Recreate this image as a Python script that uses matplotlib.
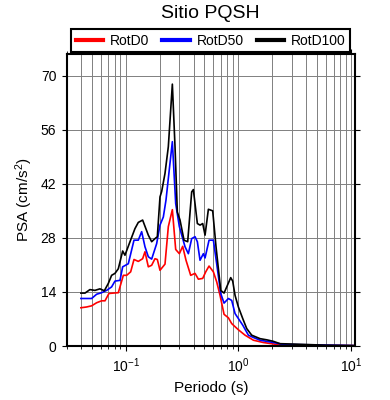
import numpy as np
import matplotlib
matplotlib.use('Agg')
import matplotlib.pyplot as plt
from matplotlib.ticker import LogLocator, NullFormatter

# periods (s) and PSA (cm/s2)
per_d100 = [0.0401, 0.0436, 0.0482, 0.0534, 0.0592, 0.0647, 0.0702, 0.0751, 0.0804,
            0.0861, 0.0941, 0.0986, 0.1093, 0.1210, 0.1295, 0.1415, 0.1589, 0.1701,
            0.1821, 0.1910, 0.2017, 0.2087, 0.2234, 0.2391, 0.2596, 0.2741, 0.2874,
            0.3036, 0.3294, 0.3551, 0.3853, 0.3987, 0.4326, 0.4569, 0.4826, 0.5062,
            0.5418, 0.5918, 0.6334, 0.6971, 0.7462, 0.7881, 0.8550, 0.8906, 0.9342,
            1.0, 1.093, 1.186, 1.313, 1.557, 1.784, 2.045, 2.343, 3.077, 4.326, 6.082, 10.8]
psa_d100 = [13.7, 13.7, 14.6, 14.4, 14.8, 14.3, 16.2, 18.3, 18.8,
            20.0, 24.6, 23.5, 27.0, 30.4, 32.0, 32.6, 28.7, 27.0,
            27.8, 28.3, 38.6, 40.0, 44.7, 51.6, 67.8, 51.6, 34.7,
            32.6, 27.4, 27.0, 39.9, 40.5, 31.7, 31.3, 31.7, 28.7,
            35.4, 35.0, 25.7, 14.4, 13.7, 15.3, 17.7, 16.8, 13.1,
            10.1, 7.1, 4.5, 2.8, 1.9, 1.6, 1.2, 0.6, 0.5, 0.35, 0.2, 0.1]

per_d50 = [0.0401, 0.0450, 0.0499, 0.0553, 0.0612, 0.0678, 0.0751, 0.0804, 0.0891,
           0.0941, 0.1056, 0.1186, 0.1295, 0.1387, 0.1484, 0.1589, 0.1701, 0.1884,
           0.2017, 0.2159, 0.2280, 0.2408, 0.2596, 0.2779, 0.2995, 0.3362, 0.3600,
           0.3853, 0.4125, 0.4326, 0.4569, 0.4892, 0.5062, 0.5492, 0.6000, 0.6511,
           0.6971, 0.7462, 0.8152, 0.8727, 0.9342, 1.0, 1.093, 1.227, 1.359, 1.557,
           2.045, 2.508, 4.326, 10.8]
psa_d50 = [12.3, 12.3, 12.3, 13.4, 13.8, 14.4, 15.3, 16.8, 17.0,
           20.5, 21.3, 27.4, 27.4, 29.6, 25.7, 23.1, 22.5, 26.5,
           31.3, 33.4, 37.8, 44.2, 52.9, 36.9, 30.9, 25.7, 23.9,
           27.8, 28.3, 27.0, 22.2, 23.9, 22.8, 27.4, 27.4, 20.0,
           13.6, 11.1, 12.3, 11.8, 8.4, 7.1, 5.4, 2.8, 2.2, 1.5,
           0.9, 0.4, 0.3, 0.1]

per_d0 = [0.0401, 0.0450, 0.0499, 0.0553, 0.0612, 0.0656, 0.0711, 0.0777, 0.0861,
          0.0954, 0.1021, 0.1108, 0.1186, 0.1295, 0.1415, 0.1484, 0.1589, 0.1701,
          0.1821, 0.1910, 0.2017, 0.2234, 0.2391, 0.2596, 0.2779, 0.2995, 0.3206,
          0.3431, 0.3775, 0.4125, 0.4416, 0.4826, 0.5132, 0.5492, 0.6000, 0.6422,
          0.6877, 0.7462, 0.8152, 0.8727, 1.0, 1.146, 1.359, 1.667, 2.189, 3.077, 10.8]
psa_d0 = [9.9, 10.1, 10.4, 11.2, 11.7, 11.7, 13.6, 13.7, 13.8,
          18.3, 18.3, 19.2, 22.4, 21.9, 22.6, 24.4, 20.5, 20.9,
          22.6, 22.4, 19.6, 21.2, 30.9, 35.3, 25.0, 23.9, 25.8,
          22.2, 18.3, 18.8, 17.3, 17.5, 19.2, 20.7, 19.2, 16.6,
          13.1, 8.2, 7.3, 5.8, 4.2, 2.8, 1.5, 0.9, 0.4, 0.2, 0.1]

yticks = [0, 14, 28, 42, 56, 70]

plt.rcParams['font.family'] = ['Liberation Sans', 'DejaVu Sans']
plt.rcParams['mathtext.fontset'] = 'custom'
plt.rcParams['mathtext.rm'] = 'Liberation Sans'
plt.rcParams['mathtext.it'] = 'Liberation Sans:italic'

fig = plt.figure(figsize=(3.9, 4.0), dpi=100)
ax = fig.add_axes([0.171, 0.135, 0.739, 0.73])

ax.semilogx(per_d0, psa_d0, color='red', lw=1.2, label='RotD0')
ax.semilogx(per_d50, psa_d50, color='blue', lw=1.2, label='RotD50')
ax.semilogx(per_d100, psa_d100, color='black', lw=1.2, label='RotD100')

ax.set_xlim(0.03, 10.8)
ax.set_ylim(0, 75.6)
ax.set_yticks(yticks)
ax.xaxis.set_major_locator(LogLocator(base=10, numticks=10))
ax.xaxis.set_minor_locator(LogLocator(base=10, subs=np.arange(2, 10), numticks=50))
ax.xaxis.set_minor_formatter(NullFormatter())

ax.grid(which='major', color='#808080', lw=0.7)
ax.grid(which='minor', axis='x', color='#808080', lw=0.7)
ax.set_axisbelow(True)

ax.tick_params(which='both', direction='out', top=True, right=True,
               labelsize=10, color='black', pad=4)
ax.tick_params(which='major', length=3.5, width=0.8)
ax.tick_params(which='minor', length=2.2, width=0.6)
for s in ax.spines.values():
    s.set_linewidth(1.5)

ax.set_xlabel('Periodo (s)', fontsize=11)
ax.set_ylabel('PSA (cm/s$^2$)', fontsize=11)

fig.text(0.54, 0.966, 'Sitio PQSH', ha='center', va='center', fontsize=14)

leg = ax.legend(loc='center', bbox_to_anchor=(0.5, 1.046), ncol=3, fontsize=10,
                frameon=True, fancybox=False, edgecolor='black', framealpha=1,
                handlelength=2.0, handletextpad=0.5, columnspacing=0.9,
                borderpad=0.3)
leg.get_frame().set_linewidth(1.5)
for line in leg.get_lines():
    line.set_linewidth(3)

fig.savefig('out.png', dpi=100)
